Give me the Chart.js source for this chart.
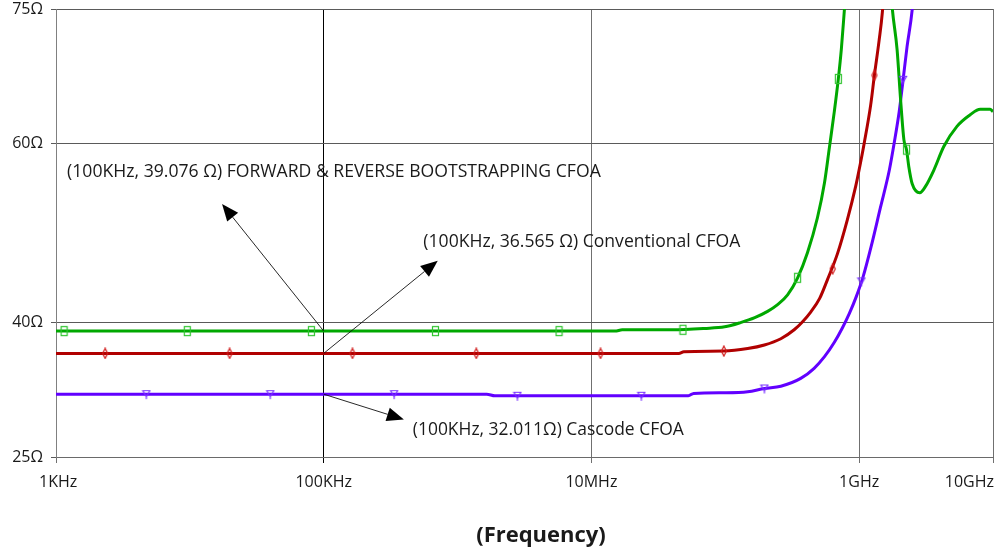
<!DOCTYPE html>
<html>
<head>
<meta charset="utf-8">
<script src="https://cdn.jsdelivr.net/npm/chart.js@4.4.0/dist/chart.umd.min.js"></script>
<style>
  html, body { margin: 0; padding: 0; background: #fff; }
  #wrap { width: 998px; height: 554px; }
</style>
</head>
<body>
<div id="wrap"><canvas id="chart"></canvas></div>
<script>
// ── Axes ──────────────────────────────────────────────────────────────────────
const xTicks      = [1e3, 1e5, 1e7, 1e9, 1e10];
const xTickLabels = ['1KHz', '100KHz', '10MHz', '1GHz', '10GHz'];
const yTicks      = [25, 40, 60, 75];

// ── Curves (Hz, Ω) ────────────────────────────────────────────────────────────
const greenFreq = [1e3, 1.5e7, 1.7e7, 4.0e7, 7.0e7, 9.9e7, 1.30e8, 1.66e8, 2.07e8, 2.46e8, 2.92e8,
                   3.47e8, 4.11e8, 4.88e8, 5.51e8, 5.99e8, 6.53e8, 6.99e8, 7.36e8, 7.74e8,
                   9.0e8, 1.15e9, 1.45e9, 1.77e9, 1.92e9, 2.04e9, 2.16e9, 2.26e9, 2.35e9, 2.49e9,
                   2.84e9, 3.13e9, 3.61e9, 4.29e9, 5.38e9, 6.76e9, 8.03e9, 9.53e9, 1e10];
const greenOhm  = [39.05, 39.05, 39.2, 39.2, 39.35, 39.53, 40.0, 40.55, 41.25, 42.0, 43.1,
                   45.0, 47.8, 51.7, 55.6, 59.5, 63.6, 67.2, 70.5, 74.7,
                   88, 98, 92, 75, 70.5, 64.9, 60.4, 59.3, 57.4, 55.5,
                   54.5, 55.2, 57.0, 59.65, 61.9, 63.2, 63.8, 63.8, 63.55];

const redFreq = [1e3, 4.5e7, 4.9e7, 9.75e7, 1.47e8, 1.96e8, 2.60e8, 3.27e8, 3.78e8, 4.36e8, 5.07e8,
                 5.80e8, 6.89e8, 8.17e8, 9.42e8, 9.98e8, 1.09e9, 1.22e9, 1.30e9, 1.41e9, 1.49e9, 1.8e9];
const redOhm  = [36.565, 36.565, 36.74, 36.82, 37.1, 37.5, 38.2, 39.2, 40.1, 41.2, 42.7,
                 44.8, 47.7, 51.5, 55.2, 57.0, 60.0, 64.3, 67.6, 71.5, 74.6, 92];

const blueFreq = [1e3, 1.65e6, 1.9e6, 5.3e7, 5.8e7, 9.9e7, 1.47e8, 1.96e8, 2.60e8, 3.66e8, 4.61e8,
                  5.51e8, 6.53e8, 7.49e8, 8.44e8, 9.52e8, 1.07e9, 1.23e9, 1.44e9, 1.68e9,
                  1.83e9, 1.99e9, 2.13e9, 2.28e9, 2.49e9, 3.0e9];
const blueOhm  = [32.011, 32.011, 31.83, 31.83, 32.1, 32.16, 32.27, 32.65, 32.9, 33.77, 34.9,
                  36.2, 37.8, 39.4, 41.0, 42.9, 45.1, 48.5, 52.8, 57.0,
                  60.1, 63.5, 67.1, 70.8, 74.9, 90];

// ── Markers (Hz, Ω) ───────────────────────────────────────────────────────────
const greenMarkFreq = [1.15e3, 9.57e3, 8.09e4, 6.84e5, 5.73e6, 4.83e7, 3.47e8, 6.99e8, 2.26e9];
const greenMarkOhm  = [39.05, 39.05, 39.05, 39.05, 39.05, 39.2, 45.0, 67.2, 59.3];
const redMarkFreq   = [2.33e3, 1.98e4, 1.64e5, 1.38e6, 1.17e7, 9.75e7, 6.34e8, 1.30e9];
const redMarkOhm    = [36.565, 36.565, 36.565, 36.565, 36.565, 36.82, 46.0, 67.6];
const blueMarkFreq  = [4.73e3, 3.99e4, 3.36e5, 2.80e6, 2.36e7, 1.96e8, 1.04e9, 2.13e9];
const blueMarkOhm   = [32.011, 32.011, 32.011, 31.83, 31.83, 32.65, 44.6, 67.1];

// ── Annotations ───────────────────────────────────────────────────────────────
const notes = [
  { text: '(100KHz, 39.076 Ω) FORWARD & REVERSE BOOTSTRAPPING CFOA',
    from: [1e5, 39.05], to: [1.74e4, 53.25], at: [1.21e3, 56.8], width: 534 },
  { text: '(100KHz, 36.565 Ω) Conventional CFOA',
    from: [1e5, 36.565], to: [7.11e5, 46.91], at: [5.55e5, 49.0], width: 317 },
  { text: '(100KHz, 32.011Ω) Cascode CFOA',
    from: [1e5, 32.011], to: [3.97e5, 29.19], at: [4.63e5, 28.0], width: 271 },
];

const FONT = '"Open Sans", "Noto Sans", sans-serif';
const zip  = (xs, ys) => xs.map((x, i) => ({ x, y: ys[i] }));

// small marker glyphs
function glyph(w, h, draw) {
  const c = document.createElement('canvas');
  c.width = w; c.height = h;
  const g = c.getContext('2d');
  g.lineWidth = 1.2;
  draw(g);
  return c;
}
const squareMark = glyph(9, 12, g => { g.strokeStyle = '#2fc42f'; g.strokeRect(1.5, 1.5, 6, 9); });
const diamondMark = glyph(8, 12, g => {
  g.strokeStyle = '#d01818';
  g.beginPath(); g.moveTo(4, 1); g.lineTo(6.5, 6); g.lineTo(4, 11); g.lineTo(1.5, 6); g.closePath(); g.stroke();
});
const triMark = glyph(10, 12, g => {
  g.strokeStyle = '#7a33ff';
  g.beginPath(); g.moveTo(1.5, 2.5); g.lineTo(8.5, 2.5); g.lineTo(5, 8.5); g.closePath();
  g.moveTo(5, 8.5); g.lineTo(5, 11); g.stroke();
});

function lineSet(xs, ys, color) {
  return { data: zip(xs, ys), borderColor: color, borderWidth: 3, pointRadius: 0,
           cubicInterpolationMode: 'monotone', fill: false, order: 1 };
}
function markSet(xs, ys, style) {
  return { data: zip(xs, ys), showLine: false, pointStyle: style, pointRadius: 4, order: 0 };
}

// ── Overlay: tick labels, title, arrows ───────────────────────────────────────
const overlay = {
  id: 'overlay',
  afterDraw(chart) {
    const { ctx, chartArea, scales: { x, y } } = chart;
    ctx.save();
    ctx.fillStyle = '#1a1a1a';
    ctx.textBaseline = 'middle';
    ctx.textAlign = 'center';

    // x tick labels
    ctx.font = `16px ${FONT}`;
    xTicks.forEach((v, i) => {
      const w = ctx.measureText(xTickLabels[i]).width;
      let cx = x.getPixelForValue(v);
      cx = Math.min(cx, chart.width - 4 - w / 2);
      cx = Math.max(cx, 39 + w / 2);
      ctx.fillText(xTickLabels[i], cx, chartArea.bottom + 25);
    });

    // axis title
    ctx.font = `bold 22px ${FONT}`;
    ctx.fillText('(Frequency)', 541, 536);

    // annotations
    notes.forEach(n => {
      const x0 = x.getPixelForValue(n.from[0]), y0 = y.getPixelForValue(n.from[1]);
      const x1 = x.getPixelForValue(n.to[0]),   y1 = y.getPixelForValue(n.to[1]);
      const ang = Math.atan2(y1 - y0, x1 - x0);
      const L = 17, W = 7;
      const bx = x1 - L * Math.cos(ang), by = y1 - L * Math.sin(ang);
      ctx.strokeStyle = '#111';
      ctx.lineWidth = 0.9;
      ctx.beginPath(); ctx.moveTo(x0, y0); ctx.lineTo(bx, by); ctx.stroke();
      ctx.fillStyle = '#000';
      ctx.beginPath();
      ctx.moveTo(x1, y1);
      ctx.lineTo(bx + W * Math.sin(ang), by - W * Math.cos(ang));
      ctx.lineTo(bx - W * Math.sin(ang), by + W * Math.cos(ang));
      ctx.closePath(); ctx.fill();

      ctx.font = `18px ${FONT}`;
      const size = 18 * n.width / ctx.measureText(n.text).width;
      ctx.font = `${size.toFixed(2)}px ${FONT}`;
      ctx.fillStyle = '#1a1a1a';
      ctx.textAlign = 'left';
      ctx.fillText(n.text, x.getPixelForValue(n.at[0]), y.getPixelForValue(n.at[1]));
      ctx.textAlign = 'center';
    });
    ctx.restore();
  },
};

// ── Chart ─────────────────────────────────────────────────────────────────────
new Chart(document.getElementById('chart'), {
  type: 'line',
  data: {
    datasets: [
      markSet(greenMarkFreq, greenMarkOhm, squareMark),
      markSet(redMarkFreq, redMarkOhm, diamondMark),
      markSet(blueMarkFreq, blueMarkOhm, triMark),
      lineSet(greenFreq, greenOhm, '#00a800'),
      lineSet(redFreq, redOhm, '#b00000'),
      lineSet(blueFreq, blueOhm, '#6200ff'),
    ],
  },
  options: {
    responsive: true,
    maintainAspectRatio: false,
    animation: false,
    layout: { padding: { top: 9, right: 2, left: 0, bottom: 0 } },
    plugins: { legend: { display: false }, tooltip: { enabled: false } },
    scales: {
      x: {
        type: 'logarithmic', min: 1e3, max: 1e10,
        afterBuildTicks: s => { s.ticks = xTicks.map(value => ({ value })); },
        afterFit: s => { s.height = 97; },
        ticks: { display: false },
        grid: {
          color: c => (c.tick && c.tick.value === 1e5 ? '#000' : '#707070'),
          lineWidth: 1, drawTicks: true, tickLength: 6,
        },
        border: { color: '#6a6a6a', width: 1 },
      },
      y: {
        type: 'linear', min: 25, max: 75,
        afterBuildTicks: s => { s.ticks = yTicks.map(value => ({ value })); },
        afterFit: s => { s.width = 56; s.paddingTop = 0; s.paddingBottom = 0; },
        ticks: { color: '#1a1a1a', padding: 8, font: { family: FONT, size: 16 }, callback: v => v + 'Ω' },
        grid: { color: '#5a5a5a', lineWidth: 1, drawTicks: true, tickLength: 5 },
        border: { color: '#808080', width: 1 },
      },
    },
  },
  plugins: [overlay],
});
</script>
</body>
</html>
